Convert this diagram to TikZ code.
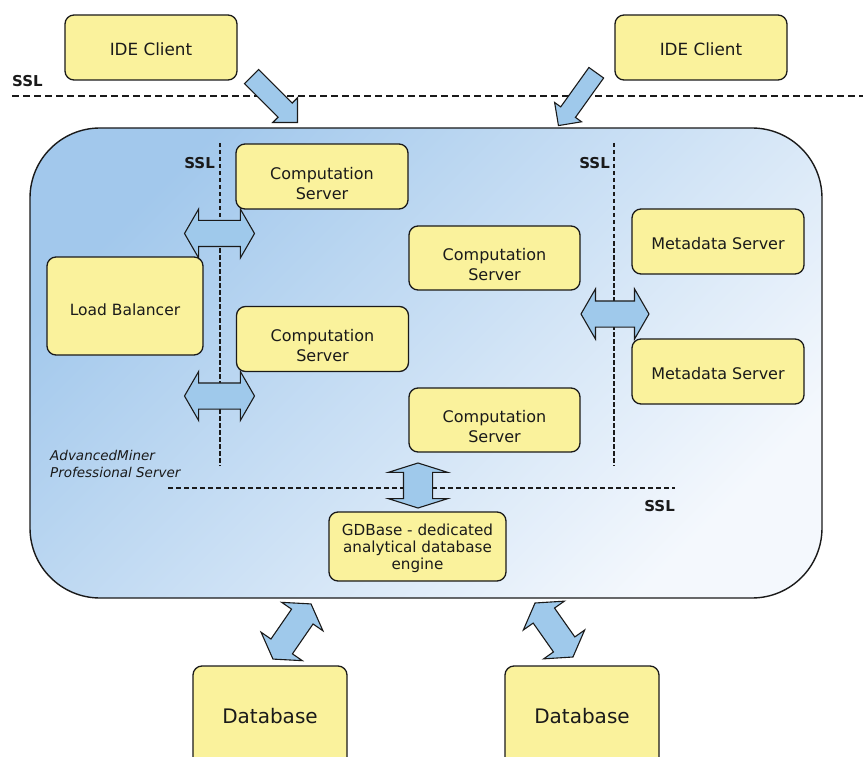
\documentclass[tikz,border=0pt]{standalone}
\usepackage{fontspec}
\setmainfont{DejaVu Sans}
\usetikzlibrary{shapes.arrows}
\definecolor{yel}{HTML}{FAF29C}
\definecolor{arrowblue}{HTML}{9FC9EB}
\definecolor{boxdark}{HTML}{A2C8EC}
\definecolor{boxlight}{HTML}{F4F8FD}
\definecolor{ink}{HTML}{1A1A1A}
\begin{document}
\begin{tikzpicture}[x=1pt,y=-1pt,
  box/.style={draw=ink, line width=1.3pt, rounded corners=9pt, fill=yel, inner sep=0pt},
  txt/.style={inner sep=0pt, align=center, text=ink, font=\fontsize{16}{20}\selectfont},
  fat/.style={draw=ink, line width=1.1pt, fill=arrowblue, inner xsep=0pt},
  dbl/.style={fat, double arrow, double arrow head extend=12pt, double arrow tip angle=120, inner ysep=12.5pt},
  sgl/.style={fat, single arrow, single arrow tip angle=90},
  ssltop/.style={ink, line width=1.8pt, dash pattern=on 7pt off 4pt},
  sslin/.style={ink, line width=1.3pt, dash pattern=on 4.5pt off 2.5pt},
  ssllabel/.style={inner sep=0pt, text=ink, font=\fontsize{15}{18}\selectfont\bfseries}]
\useasboundingbox (0,0) rectangle (863,757);
\clip (0,0) rectangle (863,757);

% server enclosure
\draw[ink, line width=1.4pt, rounded corners=70pt, top color=boxdark, bottom color=boxlight, shading angle=45]
  (30,128) rectangle (822,598);

% SSL boundaries
\draw[ssltop] (12,96) -- (863,96);
\draw[sslin] (220,143) -- (220,466);
\draw[sslin] (614,143) -- (614,466);
\draw[sslin, dash pattern=on 5pt off 3pt] (168,488) -- (675,488);

\node[ssllabel, anchor=base west] (sslA) at (12,87) {SSL};
\node[ssllabel, anchor=base east] (sslB) at (215,169) {SSL};
\node[ssllabel, anchor=base east] (sslC) at (610,169) {SSL};
\node[ssllabel, anchor=base east] (sslD) at (675,511) {SSL};

\node[anchor=north west, inner sep=0pt, align=left, text=ink,
  font=\fontsize{13.5}{17.5}\selectfont\itshape] (amps) at (50,450)
  {AdvancedMiner\\Professional Server};

% boxes
\node[box, minimum width=172pt, minimum height=65pt] (ide1) at (151,47.5) {};
\node[box, minimum width=172pt, minimum height=65pt] (ide2) at (701,47.5) {};
\node[box, minimum width=172pt, minimum height=65pt] (cs1) at (322,176.5) {};
\node[box, minimum width=172pt, minimum height=65pt] (cs2) at (322.5,339) {};
\node[box, minimum width=171pt, minimum height=64pt] (cs3) at (494.5,258) {};
\node[box, minimum width=171pt, minimum height=64pt] (cs4) at (494.5,420) {};
\node[box, minimum width=156pt, minimum height=98pt] (lb) at (125,306) {};
\node[box, minimum width=172pt, minimum height=65pt] (ms1) at (718,241.5) {};
\node[box, minimum width=172pt, minimum height=65pt] (ms2) at (718,371.5) {};
\node[box, minimum width=177pt, minimum height=69pt] (gd) at (417.5,546.5) {};
\node[box, minimum width=154pt, minimum height=100pt] (db1) at (270,716) {};
\node[box, minimum width=154pt, minimum height=100pt] (db2) at (582,716) {};

% box texts
\node[txt, font=\fontsize{16.8}{20}\selectfont] (ide1t) at ([yshift=-2pt]ide1.center) {IDE Client};
\node[txt, font=\fontsize{16.8}{20}\selectfont] (ide2t) at ([yshift=-2pt]ide2.center) {IDE Client};
\node[txt] (cs1t) at ([yshift=-7pt]cs1.center) {Computation\\Server};
\node[txt] (cs2t) at ([yshift=-7pt]cs2.center) {Computation\\Server};
\node[txt] (cs3t) at ([yshift=-7pt]cs3.center) {Computation\\Server};
\node[txt] (cs4t) at ([yshift=-7pt]cs4.center) {Computation\\Server};
\node[txt, font=\fontsize{15.5}{20}\selectfont] (lbt) at ([yshift=-3.5pt]lb.center) {Load Balancer};
\node[txt] (ms1t) at ([yshift=-2pt]ms1.center) {Metadata Server};
\node[txt] (ms2t) at ([yshift=-2pt]ms2.center) {Metadata Server};
\node[txt, font=\fontsize{15.2}{17}\selectfont] (gdt) at ([yshift=-2pt]gd.center)
  {GDBase - dedicated\\analytical database\\engine};
\node[txt, font=\fontsize{20}{24}\selectfont] (db1t) at (db1.center) {Database};
\node[txt, font=\fontsize{20}{24}\selectfont] (db2t) at (db2.center) {Database};

% fat arrows
\node[sgl, inner ysep=9.5pt, single arrow head extend=7.5pt, minimum height=65pt, rotate=-45] (ar1) at (271,96) {};
\node[sgl, inner ysep=8.5pt, single arrow head extend=7.5pt, minimum height=65pt, rotate=234.4] (ar2) at (580,95.5) {};
\node[dbl, double arrow head extend=11.5pt, minimum height=70pt] (ar3) at (219.5,233.5) {};
\node[dbl, double arrow head extend=11.5pt, minimum height=70pt] (ar4) at (219.5,396) {};
\node[dbl, minimum height=68pt] (ar5) at (615,314) {};
\node[dbl, inner ysep=14pt, double arrow head extend=15pt, double arrow tip angle=145, minimum height=45pt, rotate=90] (ar6) at (418,485.5) {};
\node[dbl, double arrow tip angle=117, minimum height=67pt, rotate=55.4] (ar7) at (292,631.5) {};
\node[dbl, double arrow tip angle=117, minimum height=66pt, rotate=-54.9] (ar8) at (554,630) {};
\end{tikzpicture}
\end{document}
